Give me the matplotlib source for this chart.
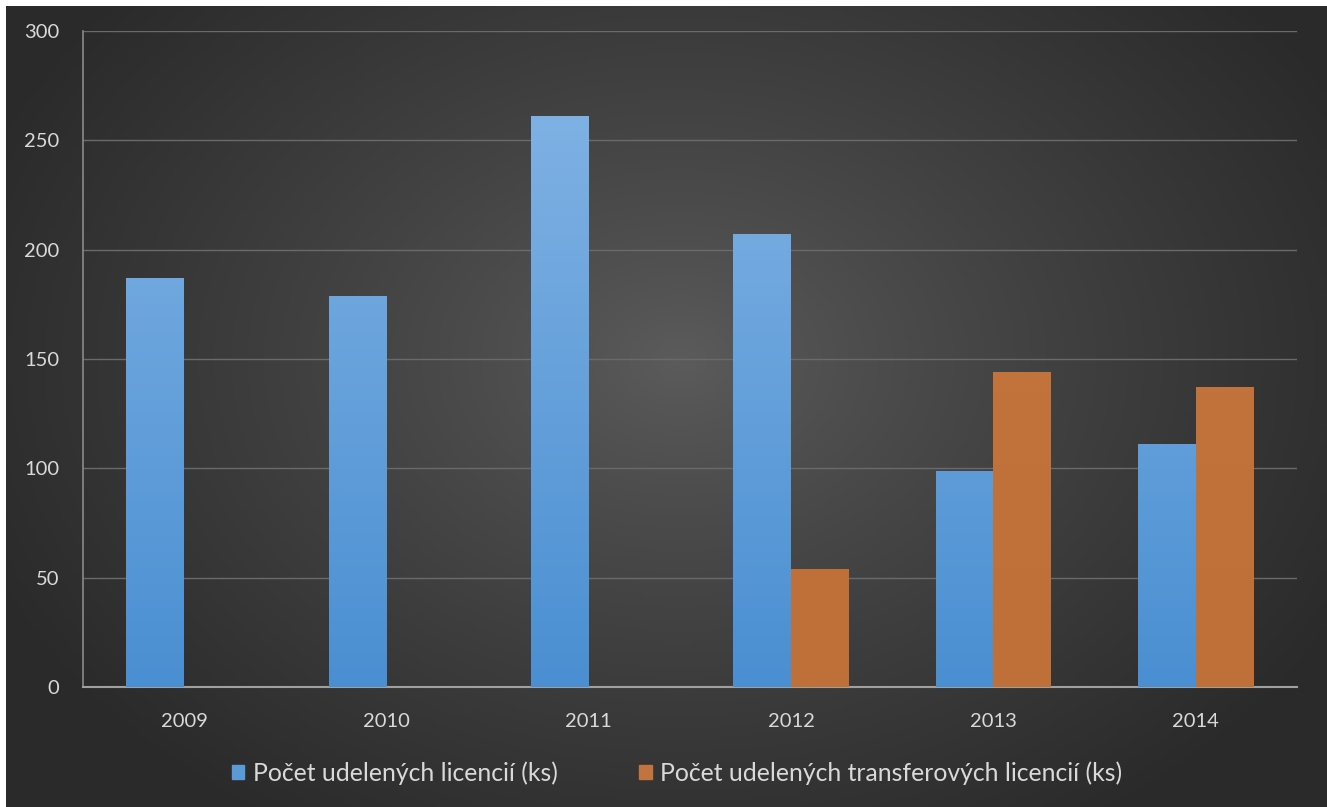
import numpy as np
import matplotlib
matplotlib.use("Agg")
import matplotlib.pyplot as plt
from matplotlib.colors import LinearSegmentedColormap, to_rgb
from matplotlib.patches import Rectangle

# ---- data ----
years = ["2009", "2010", "2011", "2012", "2013", "2014"]
licences = [187, 179, 261, 207, 99, 111]
transfer_licences = [0, 0, 0, 54, 144, 137]
series_names = ["Počet udelených licencií (ks)",
                "Počet udelených transferových licencií (ks)"]
yticks = [0, 50, 100, 150, 200, 250, 300]

plt.rcParams['font.family'] = ['Lato', 'DejaVu Sans']

W, H = 1327, 807
fig = plt.figure(figsize=(W / 100, H / 100), dpi=100)
fig.patch.set_facecolor("white")

# ---- background (radial gradient) ----
bg = fig.add_axes([6 / W, 0, 1 - 6 / W, 1 - 6 / H], zorder=0)
bg.set_axis_off()
gx, gy = np.meshgrid(np.linspace(6, W, 400), np.linspace(6, H, 250))
cx, cy = 680, 360
r = np.sqrt(((gx - cx) / 760) ** 2 + ((gy - cy) / 560) ** 2)
r = np.clip(r, 0, 1)
c_in = np.array(to_rgb("#5c5c5c"))
c_out = np.array(to_rgb("#2a2a2a"))
k = r[..., None] ** 0.85
img = c_in[None, None, :] * (1 - k) + c_out[None, None, :] * k
bg.imshow(img, aspect="auto", extent=[0, 1, 0, 1], origin="upper")
bg.set_xlim(0, 1)
bg.set_ylim(0, 1)

# ---- main axes ----
ax = fig.add_axes([83 / W, 1 - 687 / H, (1297 - 83) / W, (687 - 31) / H], zorder=1)
ax.set_facecolor("none")

x = np.arange(len(years))
bw = 1 / 3.5
b1 = ax.bar(x - bw / 2, licences, width=bw, color="#5b9bd5", zorder=3, linewidth=0)
b2 = ax.bar(x + bw / 2, transfer_licences, width=bw, color="#c27440", zorder=3, linewidth=0)

blue_cmap = LinearSegmentedColormap.from_list("b", ["#4a8fd2", "#80b2e4"])
orange_cmap = LinearSegmentedColormap.from_list("o", ["#bf6f38", "#c4773f"])
for bars, cmap in ((b1, blue_cmap), (b2, orange_cmap)):
    for p in bars:
        hgt = p.get_height()
        if hgt <= 0:
            continue
        x0 = p.get_x()
        grad = np.linspace(0, 1, 256).reshape(-1, 1) * (hgt / 300)
        im = ax.imshow(grad, cmap=cmap, vmin=0, vmax=0.9, aspect="auto",
                       extent=[x0, x0 + p.get_width(), 0, hgt], origin="lower", zorder=4)
        im.set_clip_path(p)

ax.set_xlim(-0.5, len(years) - 0.5)
ax.set_ylim(0, 300)
ax.set_yticks(yticks)
ax.set_xticks(x)
ax.set_xticklabels(years)
ax.grid(axis="y", color="#6a6a6a", linewidth=1, zorder=0)
for s in ["top", "right"]:
    ax.spines[s].set_visible(False)
ax.spines["left"].set_color("#8a8a8a")
ax.spines["bottom"].set_color("#a0a0a0")
ax.spines["left"].set_linewidth(1.2)
ax.spines["bottom"].set_linewidth(1.5)
ax.tick_params(axis="both", length=0, colors="#d9d9d9", labelsize=14.5)
ax.tick_params(axis="x", pad=19)
ax.tick_params(axis="y", pad=17)

# ---- legend ----
handles = [Rectangle((0, 0), 1, 1, color="#5b9bd5"), Rectangle((0, 0), 1, 1, color="#c27440")]
leg = fig.legend(handles, series_names, loc="center", bbox_to_anchor=(677 / W, 1 - 773 / H),
                 ncol=2, frameon=False, fontsize=17.8, handlelength=0.5, handleheight=0.5,
                 handletextpad=0.35, columnspacing=3.3)
for t in leg.get_texts():
    t.set_color("#d9d9d9")

fig.savefig("out.png", dpi=100, facecolor=fig.get_facecolor())
